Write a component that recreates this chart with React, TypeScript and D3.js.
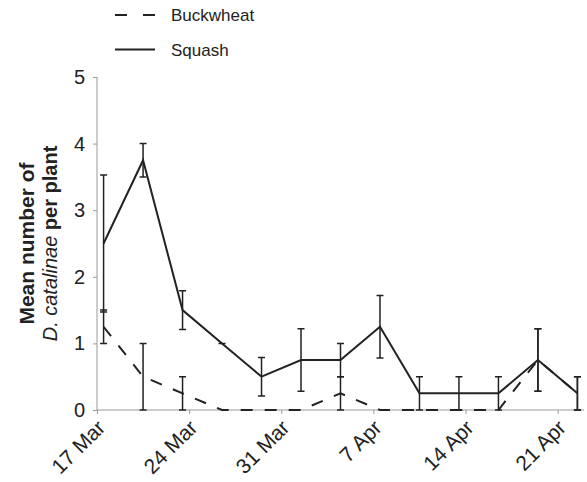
import { useEffect, useRef } from 'react'
import * as d3 from 'd3'

// sampling dates (plotted at midday)
const sampleDates = ['2011-03-17', '2011-03-20', '2011-03-23', '2011-03-26', '2011-03-29', '2011-04-01', '2011-04-04',
  '2011-04-07', '2011-04-10', '2011-04-13', '2011-04-16', '2011-04-19', '2011-04-22']

const squashMean = [2.5, 3.75, 1.5, 1.0, 0.5, 0.75, 0.75, 1.25, 0.25, 0.25, 0.25, 0.75, 0.25]
const squashSE = [1.03, 0.25, 0.29, 0, 0.29, 0.47, 0.25, 0.47, 0.25, 0.25, 0.25, 0.47, 0.25]

const buckwheatMean = [1.25, 0.5, 0.25, 0, 0, 0, 0.25, 0, 0, 0, 0, 0.75, 0.25]
const buckwheatSE = [0.25, 0.5, 0.25, 0, 0, 0, 0.25, 0, 0, 0, 0, 0.47, 0.25]

const tickDates = ['2011-03-17', '2011-03-24', '2011-03-31', '2011-04-07', '2011-04-14', '2011-04-21']
const tickLabels = ['17 Mar', '24 Mar', '31 Mar', '7 Apr', '14 Apr', '21 Apr']
const yTicks = [0, 1, 2, 3, 4, 5]

const FONT = 'Liberation Sans, Arial, Helvetica, sans-serif'

export default function App() {
  const svgRef = useRef<SVGSVGElement>(null)

  useEffect(() => {
    const width = 587
    const height = 482
    const margin = { top: 77, right: 3, bottom: 72, left: 97 }

    const svg = d3.select(svgRef.current)
      .attr('width', width)
      .attr('height', height)

    svg.selectAll('*').remove()

    const day = (s: string, h = 0) => new Date(s + 'T00:00:00Z').getTime() + h * 3600 * 1000

    const x = d3.scaleUtc()
      .domain([day('2011-03-17'), day('2011-04-23')])
      .range([margin.left, width - margin.right])

    const y = d3.scaleLinear()
      .domain([0, 5])
      .range([height - margin.bottom, margin.top])

    const axisColor = '#9a9a9a'
    const ink = '#222'

    // Y axis
    const yAxis = svg.append('g')
      .attr('transform', `translate(${margin.left},0)`)
      .call(d3.axisLeft(y).tickValues(yTicks).tickSize(4).tickPadding(8).tickFormat(d3.format('d')))
    yAxis.select('.domain').attr('stroke', axisColor).attr('d', `M0,${y(5)}V${y(0)}`)
    yAxis.selectAll('.tick line').attr('stroke', axisColor)
    yAxis.selectAll('.tick text')
      .attr('fill', ink)
      .attr('font-family', FONT)
      .attr('font-size', 20)

    // X axis
    const xAxis = svg.append('g')
      .attr('transform', `translate(0,${y(0)})`)
      .call(d3.axisBottom(x)
        .tickValues(tickDates.map(d => new Date(day(d))))
        .tickSize(4)
        .tickFormat((d, i) => tickLabels[i]))
    xAxis.select('.domain').attr('stroke', axisColor).attr('d', `M${margin.left},0H${width - margin.right}`)
    xAxis.selectAll('.tick line').attr('stroke', axisColor)
    xAxis.selectAll('.tick text')
      .attr('fill', ink)
      .attr('font-family', FONT)
      .attr('font-size', 21)
      .attr('text-anchor', 'end')
      .attr('dy', null)
      .attr('y', 0)
      .attr('transform', 'translate(9,19) rotate(-45)')

    const series = [
      { name: 'Buckwheat', mean: buckwheatMean, se: buckwheatSE, dash: '12,12' },
      { name: 'Squash', mean: squashMean, se: squashSE, dash: null }
    ]

    const line = d3.line<[number, number]>()
      .x(d => d[0])
      .y(d => d[1])

    series.forEach(s => {
      const pts = sampleDates.map((d, i) => ({ t: day(d, 12), m: s.mean[i], e: s.se[i] }))

      // error bars
      const eb = svg.append('g')
        .attr('stroke', ink)
        .attr('stroke-width', 1.5)
        .attr('fill', 'none')
      eb.selectAll('path')
        .data(pts.filter(p => p.m > 0 || p.e > 0))
        .join('path')
        .attr('d', p => {
          const px = x(p.t)
          const y1 = y(p.m + p.e)
          const y0 = y(Math.max(0, p.m - p.e))
          return `M${px},${y1}V${y0}M${px - 3.5},${y1}H${px + 3.5}M${px - 3.5},${y0}H${px + 3.5}`
        })

      svg.append('path')
        .datum(pts.map(p => [x(p.t), y(p.m)] as [number, number]))
        .attr('d', line)
        .attr('fill', 'none')
        .attr('stroke', ink)
        .attr('stroke-width', 2)
        .attr('stroke-dasharray', s.dash)
    })

    // Legend
    const legend = svg.append('g')
    const legendItems = [
      { name: 'Buckwheat', dash: '12,16', y: 15 },
      { name: 'Squash', dash: null, y: 49.5 }
    ]
    legendItems.forEach(item => {
      legend.append('line')
        .attr('x1', 115).attr('x2', 155)
        .attr('y1', item.y).attr('y2', item.y)
        .attr('stroke', ink)
        .attr('stroke-width', 2)
        .attr('stroke-dasharray', item.dash)
      legend.append('text')
        .attr('x', 171)
        .attr('y', item.y + 6)
        .attr('fill', ink)
        .attr('font-family', FONT)
        .attr('font-size', 17)
        .text(item.name)
    })

    // Y label
    const yl = svg.append('text')
      .attr('transform', `translate(0,${(y(0) + y(5)) / 2}) rotate(-90)`)
      .attr('text-anchor', 'middle')
      .attr('fill', ink)
      .attr('font-family', FONT)
      .attr('font-size', 21)
    yl.append('tspan')
      .attr('x', 0).attr('y', 34)
      .attr('font-weight', 'bold')
      .text('Mean number of')
    const l2 = yl.append('tspan').attr('x', 0).attr('y', 57).attr('font-size', 20)
    l2.append('tspan').attr('font-style', 'italic').text('D. catalinae ')
    l2.append('tspan').attr('font-weight', 'bold').text('per plant')
  }, [])

  return (
    <svg ref={svgRef} style={{ position: 'absolute', left: 0, top: 0 }}></svg>
  )
}
